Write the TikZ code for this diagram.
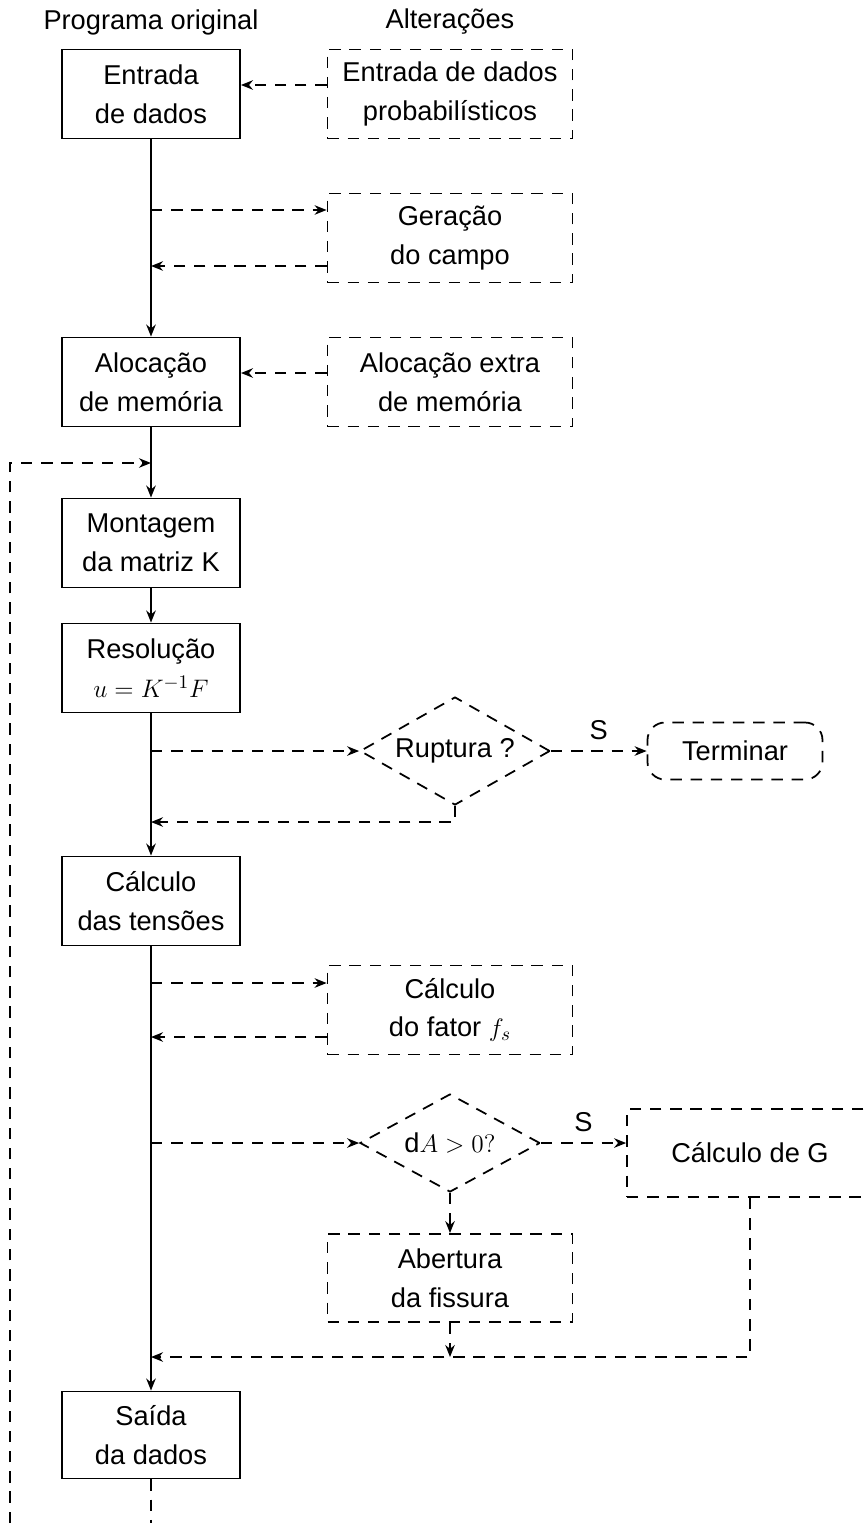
\documentclass[tikz,border=0pt]{standalone}
\usepackage{fontspec}
\setmainfont{Liberation Sans}
\usetikzlibrary{shapes.geometric, arrows, arrows.meta, positioning}
\tikzstyle{mainBox} = [rectangle, minimum width=3.56cm, minimum height=1.78cm, text centered, align=center, draw=black, line width=1.1pt]
\tikzstyle{altBox} = [rectangle, minimum width=4.9cm, minimum height=1.78cm, text centered, align=center, draw=black, line width=1pt, dash pattern=on 6.5pt off 5pt]
\tikzstyle{decision} = [diamond, aspect=1.76, inner sep=0pt, minimum width=3.8cm, minimum height=2.16cm, text centered, draw=black, line width=1pt, dash pattern=on 6.5pt off 5pt]
\tikzstyle{endBox} = [rectangle, rounded corners=.35cm, minimum width=3.5cm, minimum height=1.14cm, text centered, draw=black, line width=1pt, dash pattern=on 6.5pt off 5pt]
\tikzstyle{arrow} = [line width=1.1pt,->,>={Stealth[length=2.4mm,width=1.9mm]}]
\tikzstyle{dashArrow} = [line width=1pt, dash pattern=on 6.5pt off 5pt,->,>={Stealth[length=2.4mm,width=1.9mm]}]
\tikzstyle{dashLine} = [line width=1pt, dash pattern=on 6.5pt off 5pt]

\begin{document}
\begin{tikzpicture}[node distance=2.5cm, font=\fontsize{15.5}{22}\selectfont]
\useasboundingbox (-3.02,1.88) rectangle (14.28,-28.74);

\node (entrada) [mainBox] {Entrada\\de dados};
\node (titleMain) [above of=entrada, yshift=-1.06cm] {Programa original};
\node (altEntrada) [altBox, right of=entrada, xshift=3.48cm] {Entrada de dados\\probabilísticos};
\node (titleAlt) [above of=altEntrada, yshift=-1.06cm] {Alterações};
\node (geracao) [altBox, below of=altEntrada, yshift=-.38cm] {Geração\\do campo};
\node (geracaoIn) [coordinate] at ([yshift=.56cm]geracao.west) {};
\node (geracaoOut) [coordinate] at ([yshift=-.56cm]geracao.west) {};
\node (alocacao) [mainBox, below of=entrada, yshift=-3.26cm] {Alocação\\de memória};
\node (altAlocacao) [altBox, right of=alocacao, xshift=3.48cm] {Alocação extra\\de memória};
\node (loopJoin) [coordinate, below of=alocacao, yshift=.88cm] {};
\node (loopCorner) [coordinate, left of=loopJoin, xshift=-.32cm] {};
\node (montagem) [mainBox, below of=alocacao, yshift=-.72cm] {Montagem\\da matriz K};
\node (resolucao) [mainBox, below of=montagem] {Resolução\\$u=K^{-1}F$};
\node (ruptura) [decision, right of=resolucao, xshift=3.58cm, yshift=-1.66cm] {Ruptura ?};
\node (terminar) [endBox, right of=ruptura, xshift=3.1cm] {Terminar};
\node (rupturaRet) [coordinate, below of=ruptura, yshift=1.08cm] {};
\node (calculo) [mainBox, below of=resolucao, yshift=-2.16cm] {Cálculo\\das tensões};
\node (fator) [altBox, right of=calculo, xshift=3.48cm, yshift=-2.18cm] {Cálculo\\do fator $f_s$};
\node (fatorIn) [coordinate] at ([yshift=.54cm]fator.west) {};
\node (fatorOut) [coordinate] at ([yshift=-.54cm]fator.west) {};
\node (decisaoA) [decision, aspect=1.84, minimum width=3.6cm, minimum height=1.96cm, below of=fator, yshift=-.16cm] {$\mathrm{d}A>0?$};
\node (calculoG) [altBox, minimum width=4.92cm, minimum height=1.76cm, right of=decisaoA, xshift=3.5cm, yshift=-.2cm] {Cálculo de G};
\node (abertura) [altBox, minimum height=1.76cm, below of=decisaoA, yshift=-.2cm] {Abertura\\da fissura};
\node (merge) [coordinate, below of=abertura, yshift=.92cm] {};
\node (saida) [mainBox, minimum height=1.74cm, below of=calculo, yshift=-8.18cm] {Saída\\da dados};
\node (tailEnd) [coordinate, below of=saida, yshift=.74cm] {};
\node (loopEnd) [coordinate] at (loopCorner |- tailEnd) {};

\draw [arrow] (entrada) -- (alocacao);
\draw [arrow] (alocacao) -- (montagem);
\draw [arrow] (montagem) -- (resolucao);
\draw [arrow] (resolucao) -- (calculo);
\draw [arrow] (calculo) -- (saida);

\draw [dashArrow] ([yshift=.18cm]altEntrada.west) -- ([yshift=.18cm]entrada.east);
\draw [dashArrow] (entrada |- geracaoIn) -- (geracaoIn);
\draw [dashArrow] (geracaoOut) -- (entrada |- geracaoOut);
\draw [dashArrow] ([yshift=.18cm]altAlocacao.west) -- ([yshift=.18cm]alocacao.east);
\draw [dashArrow] (loopEnd) -- (loopCorner) -- (loopJoin);

\draw [dashArrow] (resolucao |- ruptura.west) -- (ruptura.west);
\draw [dashArrow] (ruptura) -- node[anchor=south,yshift=.1cm]{S} (terminar);
\draw [dashArrow] (ruptura.south) -- (rupturaRet) -- (resolucao |- rupturaRet);

\draw [dashArrow] (calculo |- fatorIn) -- (fatorIn);
\draw [dashArrow] (fatorOut) -- (calculo |- fatorOut);
\draw [dashArrow] (calculo |- decisaoA.west) -- (decisaoA.west);
\draw [dashArrow] (decisaoA.east) -- node[anchor=south,yshift=.1cm]{S} (decisaoA.east -| calculoG.west);
\draw [dashArrow] (decisaoA) -- (abertura);
\draw [dashArrow] (abertura) -- (merge);
\draw [dashArrow] (calculoG.south) |- (calculo |- merge);
\draw [dashLine] (saida) -- (tailEnd);
\end{tikzpicture}
\end{document}
